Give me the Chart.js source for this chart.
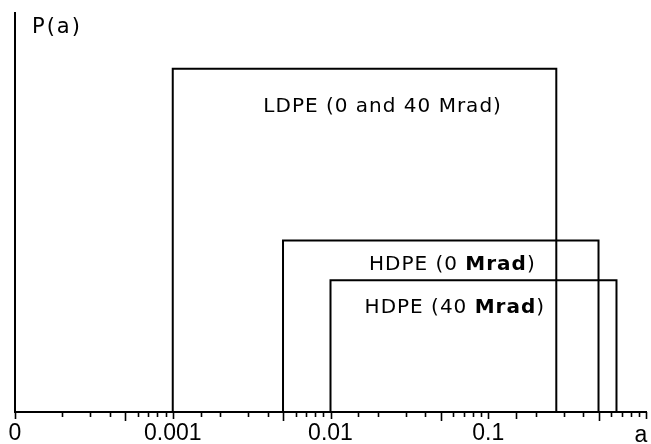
<!DOCTYPE html>
<html>
<head>
<meta charset="utf-8">
<script src="https://cdn.jsdelivr.net/npm/chart.js@4"></script>
<style>
  html, body { margin: 0; padding: 0; background: #fff; }
  #wrap { width: 651px; height: 444px; }
</style>
</head>
<body>
<div id="wrap"><canvas id="c" width="651" height="444"></canvas></div>
<script>
// Box-shaped distributions P(a): each sample is flat between a lower and an upper a
const sampleNames = ['LDPE (0 and 40 Mrad)', 'HDPE (0 Mrad)', 'HDPE (40 Mrad)'];
const aLower = [0.001, 0.005, 0.01];
const aUpper = [0.27, 0.5, 0.65];
const pHeight = [0.86, 0.43, 0.33];

// Labelled positions on the logarithmic a axis (the left end is drawn as "0")
const tickValues = [0.0001, 0.001, 0.01, 0.1];
const tickLabels = ['0', '0.001', '0.01', '0.1'];

const INK = '#000';
const boxFont = '"DejaVu Sans", sans-serif';
const axisFont = '"Liberation Sans", Arial, sans-serif';

function sameValue(a, b) {
  return Math.abs(a - b) <= Math.abs(b) * 1e-6;
}

const datasets = sampleNames.map((name, i) => ({
  label: name,
  data: [
    { x: aLower[i], y: 0 },
    { x: aLower[i], y: pHeight[i] },
    { x: aUpper[i], y: pHeight[i] },
    { x: aUpper[i], y: 0 }
  ],
  showLine: true,
  borderColor: INK,
  borderWidth: 2,
  pointRadius: 0,
  pointHoverRadius: 0,
  tension: 0,
  fill: false
}));

// Minor/major tick marks hanging below the a axis
const tickMarks = {
  id: 'tickMarks',
  afterDraw(chart) {
    const xs = chart.scales.x;
    const { ctx } = chart;
    const y0 = chart.chartArea.bottom;
    ctx.save();
    ctx.strokeStyle = INK;
    ctx.lineWidth = 1.6;
    xs.ticks.forEach(t => {
      const v = t.value;
      const exp = Math.floor(Math.log10(v) + 1e-9);
      const mant = Math.round(v / Math.pow(10, exp));
      const len = mant === 1 ? 7 : (mant === 5 ? 9 : 5);
      const px = Math.round(xs.getPixelForValue(v)) + 0.5;
      ctx.beginPath();
      ctx.moveTo(px, y0);
      ctx.lineTo(px, y0 + len);
      ctx.stroke();
    });
    ctx.restore();
  }
};

// Axis names and the sample names written inside the boxes
const annotations = {
  id: 'annotations',
  afterDatasetsDraw(chart, args, opts) {
    const { ctx, chartArea } = chart;
    const xs = chart.scales.x, ys = chart.scales.y;
    ctx.save();
    ctx.fillStyle = INK;
    ctx.textBaseline = 'alphabetic';

    // P(a) at the top of the vertical axis
    ctx.font = '21px ' + boxFont;
    ctx.letterSpacing = '2px';
    ctx.textAlign = 'left';
    ctx.fillText('P(a)', chartArea.left + 17, chartArea.top + 20);

    // a at the end of the horizontal axis
    ctx.font = '23px ' + axisFont;
    ctx.letterSpacing = '0px';
    ctx.textAlign = 'center';
    ctx.fillText('a', chartArea.right - 5, chartArea.bottom + 30);

    // box labels, "Mrad" set in bold where requested
    ctx.textAlign = 'left';
    ctx.letterSpacing = '1px';
    opts.labels.forEach((lab, i) => {
      const text = sampleNames[i];
      const parts = lab.boldUnit
        ? text.split(/(Mrad)/).filter(s => s.length).map(s => ({ s, bold: s === 'Mrad' }))
        : [{ s: text, bold: false }];
      const fontOf = p => (p.bold ? 'bold ' : '') + '20px ' + boxFont;
      let total = 0;
      parts.forEach(p => { ctx.font = fontOf(p); total += ctx.measureText(p.s).width; });
      let x = xs.getPixelForValue(lab.a) - total / 2;
      const y = ys.getPixelForValue(lab.p);
      parts.forEach(p => {
        ctx.font = fontOf(p);
        ctx.fillText(p.s, x, y);
        x += ctx.measureText(p.s).width;
      });
    });
    ctx.restore();
  }
};

new Chart(document.getElementById('c'), {
  type: 'scatter',
  data: { datasets },
  options: {
    responsive: false,
    animation: false,
    events: [],
    layout: { padding: { left: 15, right: 5, top: 13, bottom: 0 } },
    plugins: {
      legend: { display: false },
      tooltip: { enabled: false },
      annotations: {
        labels: [
          { a: 0.0214, p: 0.753, boldUnit: false },
          { a: 0.0592, p: 0.356, boldUnit: true },
          { a: 0.0614, p: 0.247, boldUnit: true }
        ]
      }
    },
    scales: {
      x: {
        type: 'logarithmic',
        min: 0.0001,
        max: 1,
        border: { display: true, color: INK, width: 2 },
        grid: { display: false, drawTicks: false },
        afterFit(scale) { scale.height = 32; },
        ticks: {
          autoSkip: false,
          maxRotation: 0,
          minRotation: 0,
          padding: 5,
          color: INK,
          font: { family: axisFont, size: 23, lineHeight: 1.45 },
          callback(value) {
            const k = tickValues.findIndex(t => sameValue(value, t));
            return k >= 0 ? tickLabels[k] : '';
          }
        }
      },
      y: {
        min: 0,
        max: 1,
        border: { display: true, color: INK, width: 2 },
        grid: { display: false, drawTicks: false },
        ticks: { display: false }
      }
    }
  },
  plugins: [tickMarks, annotations]
});
</script>
</body>
</html>
